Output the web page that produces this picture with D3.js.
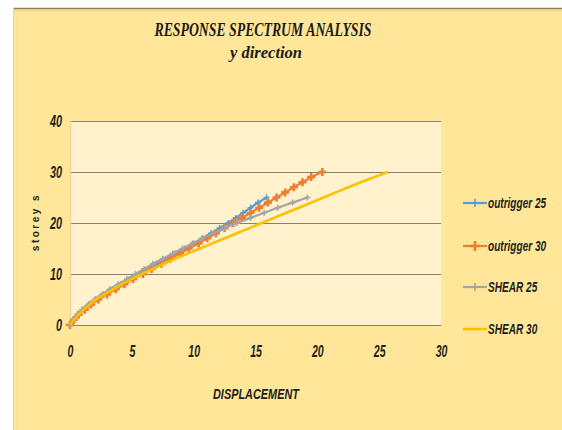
<!DOCTYPE html>
<html>
<head>
<meta charset="utf-8">
<script src="https://cdn.jsdelivr.net/npm/d3@7"></script>
<style>
  html, body { margin: 0; padding: 0; background: #ffffff; }
  svg { display: block; }
</style>
</head>
<body>
<svg id="chart" width="562" height="430"></svg>
<script>
// Storey displacement from response spectrum analysis, y direction
const seriesNames = ["outrigger 25", "outrigger 30", "SHEAR 25", "SHEAR 30"];
const seriesColors = ["#5B9BD5", "#ED7D31", "#A5A5A5", "#FFC000"];

const storeys25 = d3.range(0, 26);
const storeys30 = d3.range(0, 31);

const outrigger25 = [0, 0.3, 0.6, 1.0, 1.5, 2.1, 2.7, 3.4, 4.1, 4.8, 5.6, 6.3, 7.0, 7.8, 8.5,
  9.3, 10.0, 10.7, 11.4, 12.1, 12.8, 13.4, 14.0, 14.6, 15.2, 15.9];
const outrigger30 = [0, 0.3, 0.7, 1.2, 1.7, 2.3, 3.0, 3.7, 4.4, 5.1, 5.9, 6.6, 7.4, 8.1, 8.9,
  9.6, 10.4, 11.1, 11.8, 12.5, 13.2, 13.9, 14.6, 15.3, 16.0, 16.7, 17.4, 18.1, 18.8, 19.5, 20.4];
const shear25 = [0, 0.25, 0.6, 1.0, 1.5, 2.0, 2.6, 3.2, 3.9, 4.6, 5.3, 6.0, 6.7, 7.5, 8.3,
  9.1, 9.9, 10.7, 11.6, 12.5, 13.5, 14.6, 15.7, 16.8, 18.0, 19.2];
const shear30 = [0, 0.3, 0.7, 1.1, 1.6, 2.1, 2.8, 3.5, 4.2, 5.0, 5.8, 6.7, 7.6, 8.5, 9.5,
  10.5, 11.5, 12.5, 13.5, 14.5, 15.5, 16.5, 17.5, 18.5, 19.5, 20.5, 21.5, 22.5, 23.5, 24.6, 25.7];

const xTicks = [0, 5, 10, 15, 20, 25, 30];
const yTicks = [0, 10, 20, 30, 40];

const titleText = "RESPONSE SPECTRUM ANALYSIS";
const subtitleText = "y  direction";
const xTitle = "DISPLACEMENT";
const yTitle = "storey s";

const series = [
  { name: seriesNames[0], color: seriesColors[0], xs: outrigger25, ys: storeys25, marker: 3, mw: 1.6 },
  { name: seriesNames[1], color: seriesColors[1], xs: outrigger30, ys: storeys30, marker: 4, mw: 2.6 },
  { name: seriesNames[2], color: seriesColors[2], xs: shear25, ys: storeys25, marker: 3, mw: 1.6 },
  { name: seriesNames[3], color: seriesColors[3], xs: shear30, ys: storeys30, marker: 0, mw: 0 }
];

const svg = d3.select("#chart");

// chart panel
svg.append("rect").attr("x", 13).attr("y", 8).attr("width", 549).attr("height", 422)
  .attr("fill", "#FFE699");
svg.append("line").attr("x1", 13).attr("x2", 562).attr("y1", 8.5).attr("y2", 8.5)
  .attr("stroke", "#8f8055").attr("stroke-width", 1.5);
svg.append("line").attr("x1", 13).attr("x2", 562).attr("y1", 11).attr("y2", 11)
  .attr("stroke", "#f3dc98").attr("stroke-width", 2);
svg.append("line").attr("x1", 13.5).attr("x2", 13.5).attr("y1", 8).attr("y2", 430)
  .attr("stroke", "#eed58c").attr("stroke-width", 1);
svg.append("line").attr("x1", 17.5).attr("x2", 17.5).attr("y1", 10).attr("y2", 430)
  .attr("stroke", "#f7e2a2").attr("stroke-width", 1.5);

const x = d3.scaleLinear().domain([0, 30]).range([70, 441]);
const y = d3.scaleLinear().domain([0, 40]).range([325, 121]);

// plot area
svg.append("rect").attr("x", x(0)).attr("y", y(40)).attr("width", x(30) - x(0)).attr("height", y(0) - y(40))
  .attr("fill", "#FFF2CC");

function squeeze(sel, ratio) {
  sel.each(function () {
    const len = this.getComputedTextLength();
    d3.select(this).attr("textLength", len * ratio).attr("lengthAdjust", "spacingAndGlyphs");
  });
}

// gridlines and storey ticks
const yAxis = d3.axisLeft(y).tickValues(yTicks).tickSize(-(x(30) - x(0))).tickPadding(8).tickFormat(d3.format("d"));
const gy = svg.append("g").attr("transform", `translate(${x(0)},0)`).call(yAxis);
gy.select(".domain").remove();
gy.selectAll(".tick line").attr("stroke", "#8d8068").attr("stroke-width", 1.2);
gy.selectAll(".tick text")
  .attr("font-family", "'Liberation Sans', Arial, sans-serif")
  .attr("font-weight", "bold").attr("font-style", "italic")
  .attr("font-size", 16).attr("fill", "#1e1e1e").attr("dy", "0.35em")
  .call(squeeze, 0.68);

svg.append("line").attr("x1", x(0) + 0.5).attr("x2", x(0) + 0.5).attr("y1", y(40)).attr("y2", y(0))
  .attr("stroke", "#eed5a0").attr("stroke-width", 1.5);

// displacement ticks
const xAxis = d3.axisBottom(x).tickValues(xTicks).tickSize(0).tickPadding(21).tickFormat(d3.format("d"));
const gx = svg.append("g").attr("transform", `translate(0,${y(0)})`).call(xAxis);
gx.select(".domain").remove();
gx.selectAll(".tick text")
  .attr("font-family", "'Liberation Sans', Arial, sans-serif")
  .attr("font-weight", "bold").attr("font-style", "italic")
  .attr("font-size", 16).attr("fill", "#1e1e1e")
  .call(squeeze, 0.66);

// series lines and markers
const line = d3.line().x(d => x(d[0])).y(d => y(d[1]));
const plusPath = s => `M${-s},0H${s}M0,${-s}V${s}`;

series.forEach(s => {
  const pts = s.xs.map((v, i) => [v, s.ys[i]]);
  svg.append("path").datum(pts).attr("d", line)
    .attr("fill", "none").attr("stroke", s.color)
    .attr("stroke-width", s.name === "SHEAR 30" ? 2.6 : 2.2)
    .attr("stroke-linejoin", "round");
  if (s.marker > 0) {
    svg.append("g").selectAll("path").data(pts).join("path")
      .attr("transform", d => `translate(${x(d[0])},${y(d[1])})`)
      .attr("d", plusPath(s.marker))
      .attr("stroke", s.color).attr("stroke-width", s.mw).attr("fill", "none");
  }
});

// titles
svg.append("text").attr("x", 263).attr("y", 36).attr("text-anchor", "middle")
  .attr("font-family", "'Liberation Serif', 'Times New Roman', serif")
  .attr("font-weight", "bold").attr("font-style", "italic").attr("font-size", 19)
  .attr("fill", "#1a1a1a").attr("textLength", 217).attr("lengthAdjust", "spacingAndGlyphs")
  .text(titleText);
svg.append("text").attr("x", 266).attr("y", 58).attr("text-anchor", "middle")
  .attr("font-family", "'Liberation Serif', 'Times New Roman', serif")
  .attr("font-weight", "bold").attr("font-style", "italic").attr("font-size", 17)
  .attr("fill", "#1a1a1a").attr("textLength", 72).attr("lengthAdjust", "spacingAndGlyphs")
  .text(subtitleText);

svg.append("text").attr("x", 256).attr("y", 399).attr("text-anchor", "middle")
  .attr("font-family", "'Liberation Sans', Arial, sans-serif")
  .attr("font-weight", "bold").attr("font-style", "italic").attr("font-size", 15)
  .attr("fill", "#1e1e1e").attr("textLength", 86).attr("lengthAdjust", "spacingAndGlyphs")
  .text(xTitle);

svg.append("text").attr("transform", "translate(39,222) rotate(-90)").attr("text-anchor", "middle")
  .attr("font-family", "'Liberation Sans', Arial, sans-serif")
  .attr("font-weight", "bold").attr("font-size", 10)
  .attr("fill", "#1e1e1e").attr("letter-spacing", 2.5)
  .text(yTitle);

// legend: entries are narrowed horizontally with a scale transform
const legendY = [203, 246, 287, 329];
series.forEach((s, i) => {
  const g = svg.append("g").attr("transform", `translate(0,${legendY[i]})`);
  g.append("line").attr("x1", 463).attr("x2", 487).attr("y1", 0).attr("y2", 0)
    .attr("stroke", s.color).attr("stroke-width", s.name === "SHEAR 30" ? 2.6 : 2.2);
  if (s.marker > 0) {
    g.append("path").attr("transform", "translate(475,0)").attr("d", plusPath(s.marker + 1))
      .attr("stroke", s.color).attr("stroke-width", s.mw).attr("fill", "none");
  }
  g.append("text").attr("transform", "translate(488,0) scale(0.72,1)").attr("dy", "0.35em")
    .attr("font-family", "'Liberation Sans', Arial, sans-serif")
    .attr("font-weight", "bold").attr("font-style", "italic").attr("font-size", 14)
    .attr("fill", "#1e1e1e")
    .text(s.name);
});
</script>
</body>
</html>
